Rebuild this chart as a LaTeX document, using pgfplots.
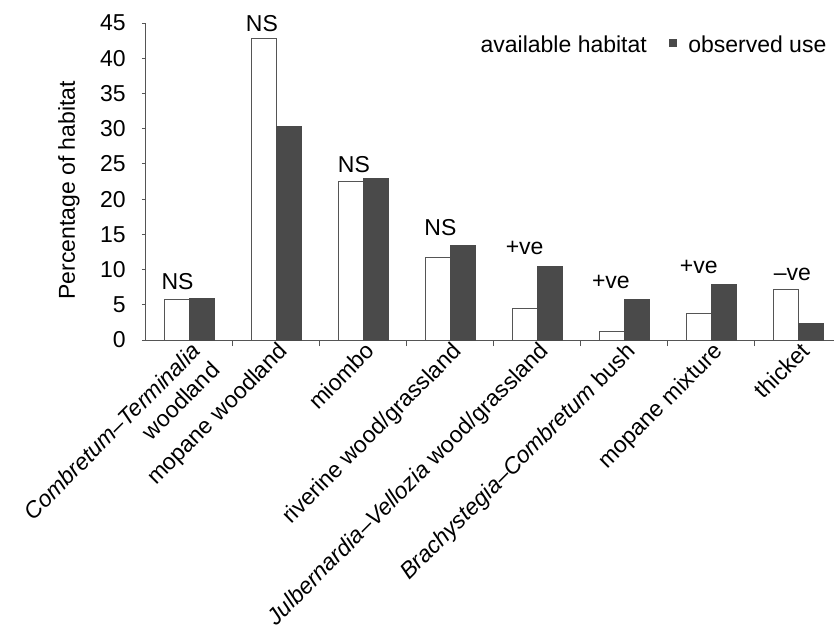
\documentclass[border=0pt]{standalone}
\usepackage{pgfplots}
\pgfplotsset{compat=1.18}
\usepackage{fontspec}
\setmainfont{Liberation Sans}
\definecolor{obsgray}{HTML}{4a4a4a}
\definecolor{axisgray}{HTML}{555555}
\newcommand{\chartfont}{\fontsize{11.5}{13.5}\selectfont}
\begin{document}
\begin{tikzpicture}
\useasboundingbox (-73pt,-144pt) rectangle (344pt,170pt);
\begin{axis}[
  at={(0pt,0pt)}, anchor=south west,
  width=344pt, height=158.5pt, scale only axis,
  xmin=-0.5, xmax=7.41, ymin=0, ymax=45,
  clip=false,
  axis lines*=left,
  axis line style={axisgray, line width=0.5pt},
  ybar=0pt, bar width=12.5pt,
  tick align=outside,
  major tick length=2pt,
  minor tick length=3pt,
  xtick={0,...,7},
  minor xtick={0.5,1.5,...,6.5},
  major x tick style={draw=none},
  minor x tick style={axisgray, line width=0.5pt},
  y tick style={axisgray, line width=0.5pt},
  ytick={0,5,...,45},
  xticklabels={
    {\textit{Combretum--Terminalia}\\woodland},
    mopane woodland,
    miombo,
    riverine wood/grassland,
    {\textit{Julbernardia--Vellozia} wood/grassland},
    {\textit{Brachystegia--Combretum} bush},
    mopane mixture,
    thicket},
  xticklabel style={rotate=45, anchor=north east, align=right, inner sep=1pt, xshift=2.5pt, yshift=2pt, font=\chartfont},
  yticklabel style={font=\chartfont, anchor=east, inner sep=0pt, xshift=-8pt},
  /pgf/number format/assume math mode=true,
  ylabel={Percentage of habitat},
  ylabel style={at={(axis description cs:-0.128,0.472)}, anchor=north, inner sep=0pt, font=\chartfont},
  legend columns=2,
  legend style={at={(rel axis cs:1.004,0.985)}, anchor=north east, draw=none, fill=none,
    font=\chartfont, /tikz/every even column/.append style={column sep=9pt}},
  legend image code/.code={\fill[#1, draw=none] (0pt,-0.5pt) rectangle (4pt,3.5pt); \path (7.5pt,0pt);},
]
\addplot[fill=white, draw=axisgray, line width=0.4pt]
  coordinates {(0,5.8) (1,42.8) (2,22.5) (3,11.7) (4,4.5) (5,1.2) (6,3.8) (7,7.2)};
\addlegendentry{available habitat}
\addplot[fill=obsgray, draw=obsgray, line width=0.4pt]
  coordinates {(0,5.9) (1,30.3) (2,22.9) (3,13.4) (4,10.5) (5,5.7) (6,7.9) (7,2.4)};
\addlegendentry{observed use}

\node[font=\chartfont] at (axis cs:-0.138,8.3) {NS};
\node[font=\chartfont] at (axis cs:0.833,44.9) {NS};
\node[font=\chartfont] at (axis cs:1.89,24.9) {NS};
\node[font=\chartfont] at (axis cs:2.885,16.0) {NS};
\node[font=\chartfont] at (axis cs:3.853,13.1) {+ve};
\node[font=\chartfont] at (axis cs:4.845,8.2) {+ve};
\node[font=\chartfont] at (axis cs:5.856,10.4) {+ve};
\node[font=\chartfont] at (axis cs:6.931,9.3) {--ve};
\end{axis}
\end{tikzpicture}
\end{document}
